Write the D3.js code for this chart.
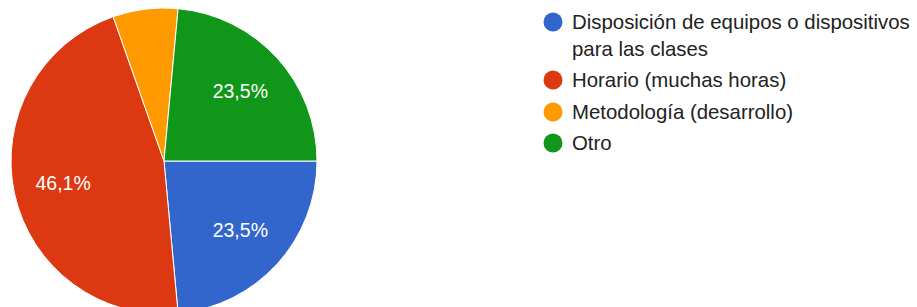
<!DOCTYPE html>
<html>
<head>
<meta charset="utf-8">
<script src="https://cdn.jsdelivr.net/npm/d3@7"></script>
<style>
  html, body { margin: 0; padding: 0; background: #fff; }
  svg { display: block; font-family: Arial, "Liberation Sans", sans-serif; }
</style>
</head>
<body>
<div id="chart"></div>
<script>
// Datos (respuestas)
let categorias = ['Disposición de equipos o dispositivos para las clases', 'Horario (muchas horas)', 'Metodología (desarrollo)', 'Otro'];
let valores = [24, 47, 7, 24];
let etiquetas = ['23,5%', '46,1%', '', '23,5%'];
let colores = ['#3366cc', '#dc3912', '#ff9900', '#109618'];

let width = 917, height = 307;
let cx = 164, cy = 161, radius = 153;

let svg = d3.select('#chart').append('svg')
    .attr('width', width)
    .attr('height', height);

let pie = d3.pie()
    .sort(null)
    .value(function(d) { return d; })
    .startAngle(Math.PI / 2)
    .endAngle(Math.PI / 2 + 2 * Math.PI);

let arc = d3.arc().innerRadius(0).outerRadius(radius);
let labelArc = d3.arc().innerRadius(radius * 0.675).outerRadius(radius * 0.675);

let g = svg.append('g').attr('transform', 'translate(' + cx + ',' + cy + ')');

let arcs = pie(valores);

g.selectAll('path')
    .data(arcs)
    .enter()
    .append('path')
    .attr('d', arc)
    .attr('fill', function(d, i) { return colores[i]; })
    .attr('stroke', '#fff')
    .attr('stroke-width', 1);

g.selectAll('text')
    .data(arcs)
    .enter()
    .append('text')
    .attr('transform', function(d) { return 'translate(' + labelArc.centroid(d) + ')'; })
    .attr('text-anchor', 'middle')
    .attr('dy', '0.35em')
    .attr('fill', '#fff')
    .style('font-size', '19.5px')
    .text(function(d, i) { return etiquetas[i]; });

// Leyenda
let legendRows = [
    {y: 22, lines: ['Disposición de equipos o dispositivos', 'para las clases']},
    {y: 80, lines: [categorias[1]]},
    {y: 112, lines: [categorias[2]]},
    {y: 143, lines: [categorias[3]]}
];

let legend = svg.append('g');

legendRows.forEach(function(row, i) {
    legend.append('circle')
        .attr('cx', 553)
        .attr('cy', row.y)
        .attr('r', 9.5)
        .attr('fill', colores[i]);

    let t = legend.append('text')
        .attr('x', 572)
        .attr('y', row.y)
        .attr('fill', '#222')
        .style('font-size', '20.4px');

    row.lines.forEach(function(l, j) {
        t.append('tspan')
            .attr('x', 572)
            .attr('dy', j == 0 ? '0.35em' : '27px')
            .text(l);
    });
});
</script>
</body>
</html>
